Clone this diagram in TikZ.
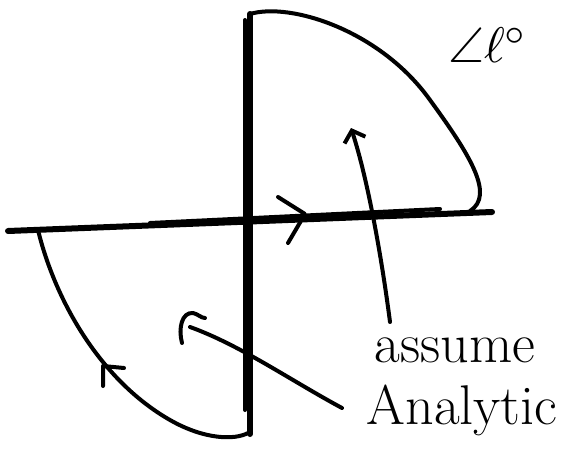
\documentclass[tikz,border=0pt]{standalone}
\usepackage{amsmath,amssymb}
\usepackage{graphicx}
\usepackage{xcolor}
\usepackage{tikz}
\usetikzlibrary{arrows.meta}

\begin{document}
\begin{tikzpicture}[
  x=1pt, y=-1pt, >={Straight Barb[length=10pt, width=22pt]},
  ink/.style={line width=4pt, line cap=round, line join=round},
  axis/.style={ink, line width=6pt},
  lbl/.style={inner sep=0pt, font=\fontsize{56}{60}\selectfont}]
  \useasboundingbox (0,0) rectangle (585,463);
  % axes
  \coordinate (xl) at (8,231);   \coordinate (xr) at (492,212);
  \coordinate (yt) at (250,14);  \coordinate (yb) at (250,434);
  \draw[axis] (xl) -- (xr);
  \draw[ink] (150,223) -- (440,209);
  \draw[axis] (yt) -- (yb);
  \draw[ink] (245,20) -- (245,410);
  % upper contour
  \draw[ink] (yt) .. controls (290,2) and (380,30) .. (430,100)
    .. controls (470,155) and (495,195) .. (470,211);
  % lower contour
  \draw[ink] (38,230) .. controls (55,300) and (100,380) .. (170,420)
    .. controls (205,440) and (235,440) .. (248,433);
  % arrows along the contour
  \draw[ink] (278,197) -- (305,214) -- (288,243);
  \draw[ink] (124,368) -- (103,366) -- (103,386);
  % labels
  \node[inner sep=0pt] (ang) at (488,45) {\scalebox{5}{$\angle\ell^\circ$}};
  \node[lbl] (assume) at (455,350) {assume};
  \node[lbl] (analytic) at (462,410) {Analytic};
  % pointers
  \coordinate (up) at (351,128);
  \coordinate (low) at (190,327);
  \draw[ink, ->] (390,322) .. controls (382,260) and (368,180) .. (up);
  \draw[ink] (342,408) .. controls (290,380) and (240,345) .. (low);
  \draw[ink] (182,343) .. controls (178,328) and (182,312) .. (193,313)
    .. controls (198,314) and (201,318) .. (205,318);
\end{tikzpicture}
\end{document}
